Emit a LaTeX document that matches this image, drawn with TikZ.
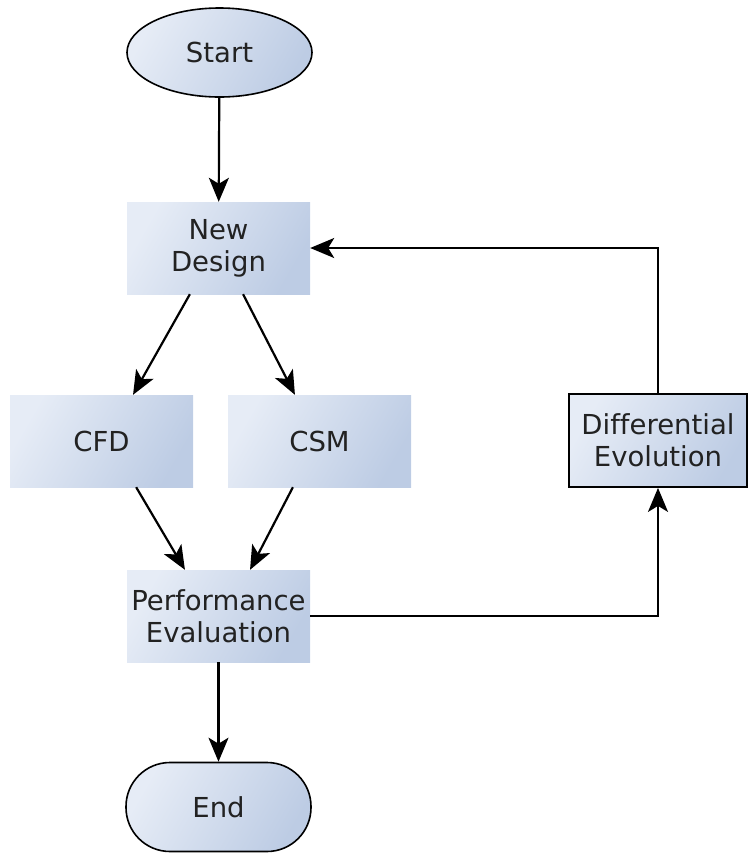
\documentclass[tikz,border=0pt]{standalone}
\usepackage{fontspec}
\setmainfont{DejaVu Sans}[Ligatures=NoCommon]
\usetikzlibrary{shapes.geometric,arrows.meta,calc}
\definecolor{shadeLight}{RGB}{230,236,246}
\definecolor{shadeDark}{RGB}{189,204,228}
\definecolor{inkText}{RGB}{34,34,34}
\begin{document}
\begin{tikzpicture}[x=1pt,y=-1pt,
  label font/.style={font=\fontsize{27.5}{32}\selectfont, text=inkText, align=center},
  blue fill/.style={left color=shadeLight, right color=shadeDark, shading angle=60},
  box/.style={rectangle, minimum width=183pt, minimum height=92pt, inner sep=0pt,
    blue fill, label font},
  framed box/.style={box, draw=black, line width=1.8pt, minimum width=178pt, minimum height=93pt},
  oval/.style={ellipse, draw=black, line width=1.6pt, minimum width=185pt, minimum height=89pt,
    inner sep=0pt, blue fill, label font},
  pill/.style={rectangle, rounded corners=44pt, draw=black, line width=1.6pt,
    minimum width=185pt, minimum height=89pt, inner sep=0pt, blue fill, label font},
  flow/.style={draw=black, line width=2.2pt, -{Stealth[length=24pt,width=20pt,inset=6pt]}}]

\useasboundingbox (0,0) rectangle (748,855);

% flowchart nodes
\node[oval] (start) at (219.5,52.5) {Start};
\node[box] (design) at (218.5,248) {New\\Design};
\node[box] (cfd) at (101.5,441) {CFD};
\node[box] (csm) at (319.5,441) {CSM};
\node[box] (perf) at (218.5,616) {Performance\\Evaluation};
\node[framed box] (de) at (658,440.5) {Differential\\Evolution};
\node[pill] (end) at (218.5,807) {End};

% connectors
\draw[flow] (start) -- (design);
\draw[flow] ($(design.south west)!0.344!(design.south east)$) -- ($(cfd.north west)!0.672!(cfd.north east)$);
\draw[flow] ($(design.south west)!0.634!(design.south east)$) -- ($(csm.north west)!0.366!(csm.north east)$);
\draw[flow] ($(cfd.south west)!0.689!(cfd.south east)$) -- ($(perf.north west)!0.317!(perf.north east)$);
\draw[flow] ($(csm.south west)!0.355!(csm.south east)$) -- ($(perf.north west)!0.672!(perf.north east)$);
\draw[flow] (perf) -- (end);
\draw[flow] (perf.east) -| (de.south);
\draw[flow] (de.north) |- (design.east);
\end{tikzpicture}
\end{document}
